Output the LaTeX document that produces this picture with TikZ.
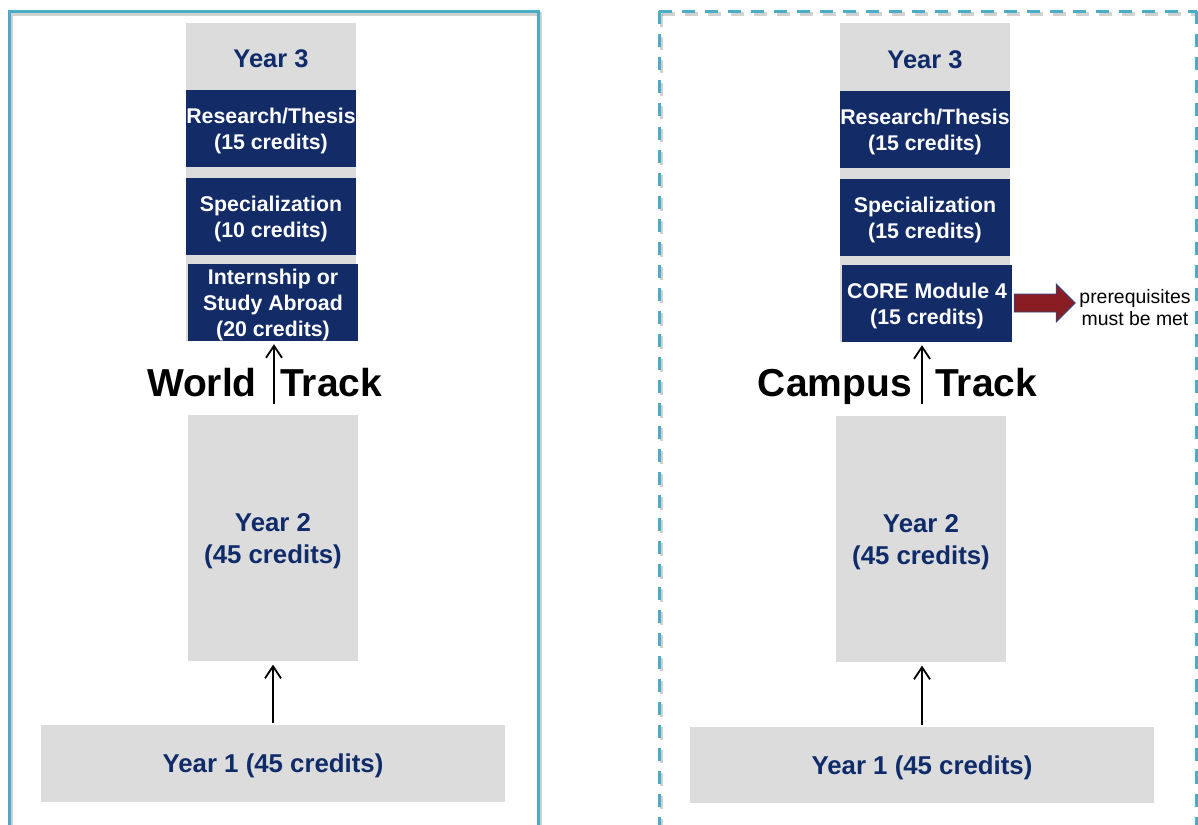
\documentclass[tikz,border=0pt]{standalone}
\usepackage{fontspec}
\setmainfont{Liberation Sans}
\usetikzlibrary{arrows.meta,calc}
\definecolor{navy}{HTML}{132B67}
\definecolor{navytext}{HTML}{0F2B69}
\definecolor{boxgray}{HTML}{DCDCDC}
\definecolor{frameblue}{HTML}{4BACC6}
\definecolor{arrowred}{HTML}{8A1C24}
\definecolor{arrowedge}{HTML}{2B4A85}
\begin{document}
\begin{tikzpicture}[x=1pt,y=-1pt,
  graybg/.style={fill=boxgray, draw=none, inner sep=0pt},
  graybox/.style={fill=boxgray, draw=none, inner sep=0pt, text depth=0pt, text=navytext, font=\fontsize{25.8}{32}\selectfont\bfseries, align=center},
  graylabel/.style={inner sep=0pt, text=navytext, font=\fontsize{25.5}{30}\selectfont\bfseries},
  navybox/.style={fill=navy, draw=none, inner sep=0pt, text depth=0pt, text=white, font=\fontsize{21.3}{26}\selectfont\bfseries, align=center},
  tracklabel/.style={font=\fontsize{39}{44}\selectfont\bfseries, inner sep=0pt},
  uparrow/.style={-{Straight Barb[length=12pt,width=16pt]}, line width=1.8pt},
  framesolid/.style={frameblue, line width=3pt},
  framedash/.style={frameblue, line width=3pt, dash pattern=on 13pt off 10pt},
  frameshadow/.style={black, opacity=0.18, line width=3.5pt},
  notetext/.style={inner sep=0pt, align=center, font=\fontsize{19.4}{22}\selectfont},
]
\useasboundingbox (0,0) rectangle (1198,824);
\clip (0,0) rectangle (1198,824);

% frames
\draw[frameshadow] (11.5,14) rectangle (540.5,860);
\draw[framesolid] (9.5,11.5) rectangle (538,860);
\draw[frameshadow, dash pattern=on 13pt off 10pt] (661.5,14) -- (1199,14);
\draw[frameshadow, dash pattern=on 13pt off 10pt] (661.5,14) -- (661.5,860);
\draw[framedash] (659,11.5) -- (1196.5,11.5);
\draw[framedash] (659,11.5) -- (659,860);
\draw[framedash] (1196.5,11.5) -- (1196.5,860);

% ---------------- World track ----------------
\node[graybg, minimum width=170pt, minimum height=318pt] (y3bgL) at (271,182) {};
\node[graylabel] (y3L) at (271,58.5) {Year 3};
\node[navybox, minimum width=170pt, minimum height=77pt] (resL) at (271,128.5) {Research/Thesis\\(15 credits)};
\node[navybox, minimum width=170pt, minimum height=77pt] (specL) at (271,216.5) {Specialization\\(10 credits)};
\node[navybox, minimum width=170pt, minimum height=77pt] (intL) at (273,302.5) {Internship or\\Study Abroad\\(20 credits)};
\node[graybox, minimum width=170pt, minimum height=246pt] (y2L) at (273,538) {Year 2\\(45 credits)};
\node[graybox, minimum width=464pt, minimum height=77pt] (y1L) at (273,763.5) {Year 1 (45 credits)};
\node[tracklabel, anchor=base east] (worldL) at (257,396) {World};
\node[tracklabel, anchor=base west] (trackL) at (280,396) {Track};
\coordinate (tailL) at (274,404);
\draw[uparrow, shorten >=3pt] (tailL) -- (tailL |- intL.south);
\draw[uparrow, shorten <=2pt, shorten >=3.5pt] (y1L.north) -- (y1L.north |- y2L.south);

% ---------------- Campus track ----------------
\node[graybg, minimum width=170pt, minimum height=318pt] (y3bgR) at (925,182.5) {};
\node[graylabel] (y3R) at (925,59.5) {Year 3};
\node[navybox, minimum width=170pt, minimum height=77pt] (resR) at (925,129.5) {Research/Thesis\\(15 credits)};
\node[navybox, minimum width=170pt, minimum height=77pt] (specR) at (925,217.5) {Specialization\\(15 credits)};
\node[navybox, minimum width=170pt, minimum height=77pt] (coreR) at (927,303.5) {CORE Module 4\\(15 credits)};
\node[graybox, minimum width=170pt, minimum height=246pt] (y2R) at (921,539) {Year 2\\(45 credits)};
\node[graybox, minimum width=464pt, minimum height=76pt] (y1R) at (922,765) {Year 1 (45 credits)};
\node[tracklabel, anchor=base east] (campusR) at (912,396) {Campus};
\node[tracklabel, anchor=base west] (trackR) at (935,396) {Track};
\coordinate (tailR) at (922,404);
\draw[uparrow, shorten >=3pt] (tailR) -- (tailR |- coreR.south);
\draw[uparrow, shorten <=2pt, shorten >=3.5pt] (y1R.north) -- (y1R.north |- y2R.south);

% prerequisites arrow
\coordinate (ra) at (coreR.east);
\draw[fill=arrowred, draw=arrowedge, line width=0.9pt, line join=miter]
  ($(ra)+(2,-9.5)$) -- ++(42,0) -- ++(0,-10) -- ++(19,19) -- ++(-19,19) -- ++(0,-10) -- ++(-42,0) -- cycle;
\node[notetext] (prereq) at (1135,308) {prerequisites\\must be met};
\end{tikzpicture}
\end{document}
